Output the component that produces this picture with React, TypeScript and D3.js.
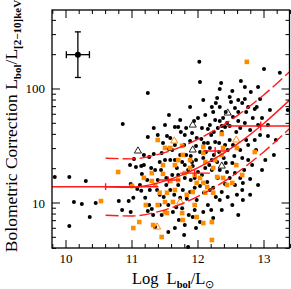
import React from 'react';
import * as d3 from 'd3';

const W = 291;
const H = 289;
const margin = { top: 10, right: 1.5, bottom: 41, left: 52 };

// type 1 sources (filled black dots): [log Lbol, Lbol/L2-10keV]
const type1: [number, number][] = [
  [9.83, 16.9], [10.05, 16.9], [10.3, 15.6], [10.12, 10.2], [10.24, 9.8], [10.45, 10.0], [10.36, 7.53], [10.05, 6.28], [10.8, 10.4], [10.86, 49.3],
  [10.85, 8.67], [10.95, 10.4], [10.97, 21.5], [11.03, 24.3], [11.06, 20.7], [10.98, 14.7], [11.08, 13.3], [11.02, 11.1], [10.98, 8.33], [11.14, 21.1],
  [11.14, 12.8], [11.18, 26.4], [11.18, 21.5], [11.15, 18.0], [11.12, 14.4], [11.24, 38.0], [11.24, 92.2], [11.26, 25.3], [11.26, 9.6], [11.24, 8.5],
  [11.33, 26.9], [11.29, 20.3], [11.35, 19.5], [11.3, 8.85], [11.32, 7.84], [11.35, 6.16], [11.33, 45.5], [11.39, 15.9], [11.38, 13.0], [11.45, 27.5],
  [11.56, 29.8], [11.44, 19.5], [11.47, 33.6], [11.53, 38.7], [11.56, 59.1], [11.55, 5.57], [11.5, 23.8], [11.52, 14.4], [11.48, 11.3], [11.55, 9.6],
  [11.45, 7.84], [11.58, 37.2], [11.65, 46.4], [11.7, 46.4], [11.61, 29.2], [11.65, 23.8], [11.68, 20.3], [11.61, 17.6], [11.7, 14.4], [11.64, 11.8],
  [11.67, 9.2], [11.62, 8.33], [11.71, 7.09], [11.74, 42.0], [11.88, 69.5], [11.85, 4.11], [11.79, 32.3], [11.82, 26.4], [11.76, 22.9], [11.85, 19.5],
  [11.8, 16.6], [11.77, 13.0], [11.83, 10.9], [11.76, 9.0], [11.86, 7.84], [11.8, 6.41], [11.94, 52.4], [12.02, 173], [11.88, 35.0], [11.98, 37.2],
  [11.89, 25.9], [11.97, 23.8], [11.92, 21.1], [12.0, 18.7], [11.89, 15.9], [11.95, 13.6], [11.98, 10.6], [11.92, 7.53], [11.97, 6.03], [12.03, 115],
  [12.06, 45.5], [12.15, 44.6], [12.05, 36.5], [12.09, 33.6], [12.15, 33.6], [12.12, 28.0], [12.08, 24.8], [12.17, 21.5], [12.06, 17.6], [12.14, 15.3],
  [12.09, 12.3], [12.15, 9.6], [12.08, 8.33], [12.03, 6.81], [12.21, 69.5], [12.23, 62.9], [12.29, 83.3], [12.27, 75.3], [12.26, 53.5], [12.3, 45.5],
  [12.2, 39.5], [12.26, 34.3], [12.32, 33.6], [12.24, 26.4], [12.29, 22.9], [12.21, 19.5], [12.3, 16.6], [12.23, 13.6], [12.27, 11.3], [12.2, 8.67],
  [12.35, 113], [12.33, 100], [12.33, 69.5], [12.33, 52.4], [12.38, 55.7], [12.44, 50.3], [12.36, 47.4], [12.36, 42.0], [12.41, 46.4], [12.45, 29.2],
  [12.39, 24.8], [12.44, 18.7], [12.41, 14.7], [12.45, 11.3], [12.36, 12.5], [12.52, 96], [12.48, 85], [12.61, 80], [12.5, 76.8], [12.56, 68.1],
  [12.48, 47.4], [12.61, 52.4], [12.52, 22.4], [12.56, 18.3], [12.56, 14.4], [12.59, 11.8], [12.53, 32.3], [12.65, 117.5], [12.71, 104], [12.71, 81.6],
  [12.67, 75.3], [12.76, 69.5], [12.71, 50.3], [12.64, 16.6], [12.68, 15.0], [12.67, 13.0], [12.67, 24.8], [12.73, 35.7], [12.8, 94], [12.91, 104],
  [12.86, 66.8], [12.89, 69.5], [12.94, 81.6], [12.79, 16.2], [12.82, 21.5], [12.88, 29.2], [12.91, 48.3], [13.0, 150], [12.94, 39.5], [13.06, 38.7],
  [12.97, 19.5], [13.02, 23.8], [13.24, 138.5], [13.36, 65.5], [13.15, 26.4], [13.18, 35.7],
  [11.73, 53.5], [11.82, 45.5], [11.91, 41.1], [12.0, 55.7], [12.11, 59.1], [12.18, 48.3], [11.97, 31.7], [12.03, 28.0], [12.18, 30.4], [12.32, 28.0],
  [12.41, 32.3], [12.48, 35.7], [12.58, 42.0], [12.64, 45.5], [12.79, 43.7], [12.83, 55.7], [12.76, 32.3], [12.64, 29.2], [12.55, 25.9], [12.42, 22.4],
  [12.33, 19.5], [12.48, 16.6], [12.21, 23.8], [12.11, 20.3], [12.03, 14.1], [11.88, 12.5], [11.73, 11.1], [11.58, 13.0], [11.42, 11.8], [11.65, 32.3],
  [11.73, 26.4], [11.58, 23.8], [11.42, 22.9], [11.8, 21.5], [11.95, 16.6], [12.18, 13.0], [12.33, 10.6], [12.52, 9.6], [12.7, 19.5], [12.76, 23.8],
  [12.86, 35.7], [12.97, 55.7], [13.06, 48.3], [13.09, 65.5], [11.39, 39.5], [11.5, 48.3], [11.8, 39.5], [12.08, 80], [12.42, 62.9], [12.61, 62.9],
  [12.53, 56.8], [12.24, 42.0], [11.91, 22.9], [11.7, 17.6], [11.52, 16.6], [11.23, 15.9], [11.27, 13.0], [11.2, 11.1], [11.42, 9.6], [11.65, 6.03],
  [11.79, 5.24], [11.95, 8.67], [12.23, 7.38], [12.36, 8.67], [12.61, 7.84], [12.68, 10.6], [12.79, 11.8], [12.91, 14.4], [12.73, 62.9],
];

// type 2 sources (orange squares)
const type2: [number, number][] = [
  [12.74, 173], [12.36, 40.3], [11.39, 35.7], [10.79, 18.7], [10.53, 10.4], [11.0, 14.1], [11.18, 16.6], [11.3, 15.6], [11.02, 6.03], [11.11, 6.81],
  [11.21, 9.6], [11.39, 9.6], [11.5, 8.33], [11.32, 6.41], [11.58, 30.4], [11.76, 31.7], [12.08, 31.0], [12.36, 26.4], [11.77, 26.4], [12.59, 30.4],
  [11.88, 23.8], [12.11, 22.9], [11.47, 21.5], [11.65, 21.5], [11.3, 18.3], [11.47, 18.0], [11.8, 18.3], [11.95, 17.6], [12.03, 16.6], [12.23, 20.3],
  [12.08, 15.0], [12.14, 13.8], [12.44, 14.4], [12.52, 15.0], [11.58, 15.6], [11.7, 15.9], [11.42, 12.3], [11.53, 12.3], [11.5, 10.2], [11.62, 10.2],
  [11.83, 11.8], [12.11, 12.3], [11.7, 23.8], [12.26, 23.8], [12.08, 27.5], [12.86, 28.0], [11.98, 15.0], [11.92, 12.5], [12.23, 12.3], [12.38, 16.6],
  [12.29, 16.9], [11.76, 8.16], [11.77, 7.09], [12.08, 6.67], [12.21, 6.81], [12.21, 4.74], [11.45, 5.03], [11.98, 7.53], [11.53, 8.16], [12.67, 17.6],
  [12.58, 21.5], [11.5, 30.4], [12.38, 30.4], [11.88, 20.3], [11.65, 13.0], [11.35, 14.4], [11.95, 9.6],
];

// open triangles
const triBlack: [number, number][] = [[12.45, 61.6], [11.92, 48.3], [11.09, 28.6], [11.92, 29.2], [12.36, 21.1]];
const triOrange: [number, number][] = [[11.64, 35.0], [12.58, 35.7], [11.73, 10.2], [11.38, 6.16]];

// relation (solid) and its spread (dashed)
const fitL = [10.6, 11.0, 11.4, 11.8, 12.2, 12.6, 13.0, 13.4];
const fitMid = [13.9, 13.7, 15.0, 18.0, 23.5, 33.0, 50.1, 81.2];
const fitHi = [24.7, 24.4, 26.7, 32.0, 41.8, 58.7, 89.1, 144];
const fitLo = [7.8, 7.7, 8.4, 10.1, 13.2, 18.6, 28.2, 45.7];

// binned means
const binCenter = [10.6, 11.55, 11.95, 12.26, 12.95];
const binLo = [9.5, 11.4, 11.73, 12.08, 12.44];
const binHi = [11.4, 11.73, 12.18, 12.44, 13.6];
const binBC = [13.9, 15.9, 18.3, 28.6, 47.3];
const binErrDex = [0.03, 0.03, 0.03, 0.035, 0.04];

// typical error
const errL = 10.18;
const errBC = 200;
const errDL = 0.175;
const errDex = 0.2;

const xTicks = [10, 11, 12, 13];
const yTicks = [10, 100];
const yMinor = [4, 5, 6, 7, 8, 9, 20, 30, 40, 50, 60, 70, 80, 90, 200, 300, 400];

export default function App() {
  const x = d3.scaleLinear()
    .domain([10 - 14 / 66, 13 + 25.5 / 66])
    .range([margin.left, W - margin.right]);
  const y = d3.scaleLog()
    .domain([4.03, 493])
    .range([H - margin.bottom, margin.top]);

  const x0 = margin.left;
  const x1 = W - margin.right;
  const y0 = H - margin.bottom;
  const y1 = margin.top;

  const xMinor = d3.range(49, 68).map((i) => i / 5).filter((v) => Math.abs(v - Math.round(v)) > 1e-6);

  const line = d3.line<number>()
    .x((_, i) => x(fitL[i]))
    .y((d) => y(d))
    .curve(d3.curveMonotoneX);

  const tri = d3.symbol().type(d3.symbolTriangle).size(22)();
  const red = '#ff1a1a';
  const font = '"Liberation Serif", "Times New Roman", serif';

  return (
    <svg width={W} height={H} style={{ position: 'absolute', left: 0, top: 0, background: '#fff' }}>
      <defs>
        <clipPath id="plot">
          <rect x={x0} y={y1} width={x1 - x0} height={y0 - y1} />
        </clipPath>
      </defs>

      {type1.map((d, i) => (
        <circle key={'a' + i} cx={x(d[0])} cy={y(d[1])} r={2} fill="#000" />
      ))}
      {type2.map((d, i) => (
        <rect key={'b' + i} x={x(d[0]) - 2.3} y={y(d[1]) - 2.3} width={4.6} height={4.6} fill="#ff8c00" />
      ))}
      {triBlack.map((d, i) => (
        <path key={'c' + i} d={tri!} transform={`translate(${x(d[0])},${y(d[1])})`} fill="none" stroke="#222" strokeWidth={1} />
      ))}
      {triOrange.map((d, i) => (
        <path key={'d' + i} d={tri!} transform={`translate(${x(d[0])},${y(d[1])})`} fill="none" stroke="#ff8c00" strokeWidth={1} />
      ))}

      <g clipPath="url(#plot)" fill="none" stroke={red} strokeWidth={1.4}>
        <path d={line(fitMid)!} />
        <path d={line(fitHi)!} strokeDasharray="13,4" />
        <path d={line(fitLo)!} strokeDasharray="13,4" />
        {binCenter.map((c, i) => (
          <g key={'e' + i}>
            <line x1={x(binLo[i])} x2={x(binHi[i])} y1={y(binBC[i])} y2={y(binBC[i])} />
            <line x1={x(c)} x2={x(c)}
              y1={y(binBC[i] * Math.pow(10, binErrDex[i]))}
              y2={y(binBC[i] / Math.pow(10, binErrDex[i]))} />
          </g>
        ))}
      </g>

      {/* typical error bar */}
      <g stroke="#000" strokeWidth={1.3}>
        <line x1={x(errL - errDL)} x2={x(errL + errDL)} y1={y(errBC)} y2={y(errBC)} />
        <line x1={x(errL - errDL)} x2={x(errL - errDL)} y1={y(errBC) - 3.5} y2={y(errBC) + 3.5} />
        <line x1={x(errL + errDL)} x2={x(errL + errDL)} y1={y(errBC) - 3.5} y2={y(errBC) + 3.5} />
        <line x1={x(errL)} x2={x(errL)} y1={y(errBC * Math.pow(10, errDex))} y2={y(errBC / Math.pow(10, errDex))} />
        <line x1={x(errL) - 3} x2={x(errL) + 3} y1={y(errBC * Math.pow(10, errDex))} y2={y(errBC * Math.pow(10, errDex))} />
        <line x1={x(errL) - 3} x2={x(errL) + 3} y1={y(errBC / Math.pow(10, errDex))} y2={y(errBC / Math.pow(10, errDex))} />
      </g>
      <circle cx={x(errL)} cy={y(errBC)} r={3} fill="#000" />

      {/* frame and ticks */}
      <rect x={x0} y={y1} width={x1 - x0} height={y0 - y1} fill="none" stroke="#000" strokeWidth={1.3} />
      <g stroke="#000" strokeWidth={1}>
        {xTicks.map((t) => (
          <g key={'xt' + t}>
            <line x1={x(t)} x2={x(t)} y1={y0} y2={y0 - 8} />
            <line x1={x(t)} x2={x(t)} y1={y1} y2={y1 + 8} />
          </g>
        ))}
        {xMinor.map((t) => (
          <g key={'xm' + t}>
            <line x1={x(t)} x2={x(t)} y1={y0} y2={y0 - 4} />
            <line x1={x(t)} x2={x(t)} y1={y1} y2={y1 + 4} />
          </g>
        ))}
        {yTicks.map((t) => (
          <g key={'yt' + t}>
            <line x1={x0} x2={x0 + 8} y1={y(t)} y2={y(t)} />
            <line x1={x1} x2={x1 - 8} y1={y(t)} y2={y(t)} />
          </g>
        ))}
        {yMinor.map((t) => (
          <g key={'ym' + t}>
            <line x1={x0} x2={x0 + 4} y1={y(t)} y2={y(t)} />
            <line x1={x1} x2={x1 - 4} y1={y(t)} y2={y(t)} />
          </g>
        ))}
      </g>

      <g fontFamily={font} fontSize={13} fill="#000">
        {xTicks.map((t) => (
          <text key={'xl' + t} x={x(t)} y={263} textAnchor="middle">{t}</text>
        ))}
        {yTicks.map((t) => (
          <text key={'yl' + t} x={45} y={y(t) + 4.5} textAnchor="end">{t}</text>
        ))}
      </g>

      <text x={132} y={284} fontFamily={font} fontSize={16.5} fill="#000">
        Log
        <tspan dx={8}>L</tspan>
        <tspan fontSize={10.5} fontWeight="bold" dy={4}>bol</tspan>
        <tspan dy={-4}>/L</tspan>
        <tspan fontSize={10.5} dy={4}>⊙</tspan>
      </text>

      <text transform="translate(17,126) rotate(-90)" textAnchor="middle" fontFamily={font} fontSize={17.5} fill="#000">
        Bolometric Correction L
        <tspan fontSize={11} fontWeight="bold" dy={4}>bol</tspan>
        <tspan dy={-4}>/L</tspan>
        <tspan fontSize={11} fontWeight="bold" dy={4}>[2−10]keV</tspan>
      </text>
    </svg>
  );
}
